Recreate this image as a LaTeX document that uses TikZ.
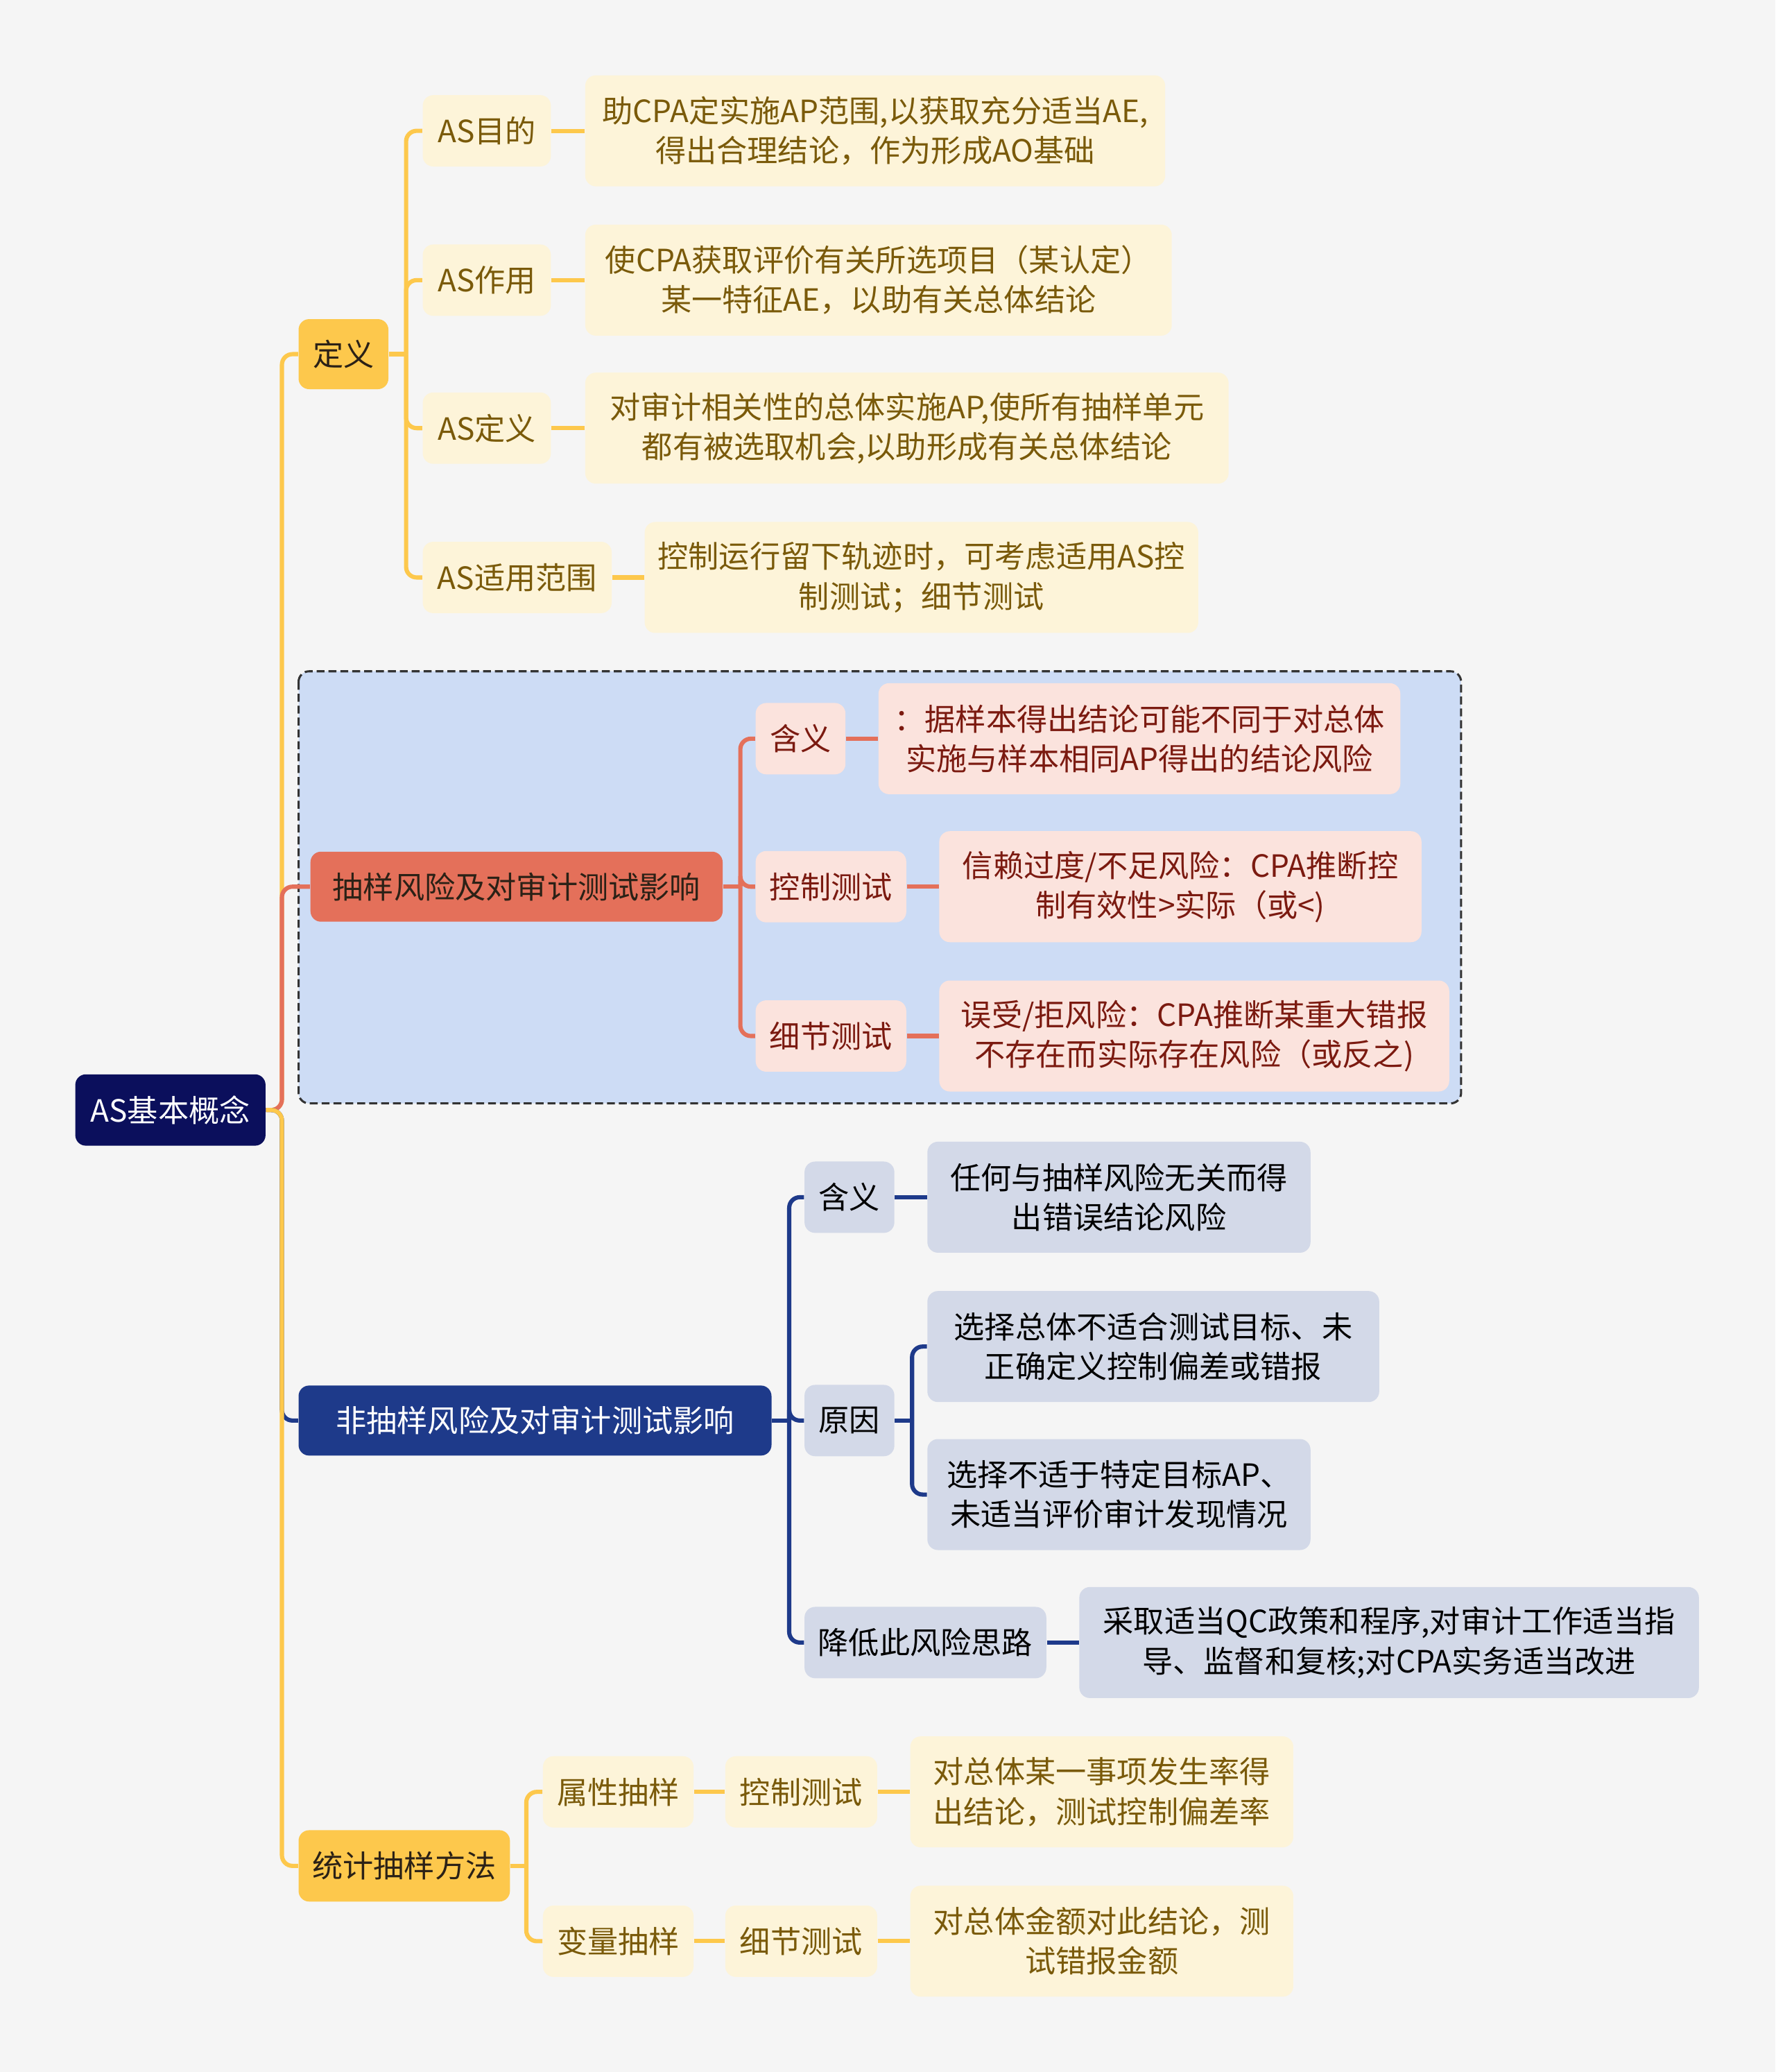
\documentclass[tikz,border=0pt]{standalone}
\usepackage{fontspec}
\setmainfont{Noto Sans CJK SC}
\definecolor{bgc}{HTML}{F5F5F5}
\definecolor{rootc}{HTML}{0B0F5C}
\definecolor{yel}{HTML}{FDC84C}
\definecolor{yelleaf}{HTML}{FDF4D9}
\definecolor{yeltext}{HTML}{7A5A0A}
\definecolor{redc}{HTML}{E4705A}
\definecolor{redleaf}{HTML}{FBE3DD}
\definecolor{redtext}{HTML}{7B1A10}
\definecolor{navy}{HTML}{1E3A8A}
\definecolor{navyleaf}{HTML}{D3D9E8}
\definecolor{boxfill}{HTML}{CDDCF5}
\definecolor{darktext}{HTML}{2B2116}
\begin{document}
\begin{tikzpicture}[x=0.5pt, y=-0.5pt,
    every node/.style={font=\fontsize{11.6}{15}\selectfont, inner sep=0pt,
      align=center, rounded corners=4pt},
    small/.style={minimum height=27pt},
    leaf/.style={minimum height=42pt},
    ylw/.style={fill=yelleaf, text=yeltext},
    rd/.style={fill=redleaf, text=redtext},
    nv/.style={fill=navyleaf, text=black},
    ylink/.style={draw=yel, line width=1.6pt, rounded corners=4pt},
    rlink/.style={draw=redc, line width=1.6pt, rounded corners=4pt},
    nlink/.style={draw=navy, line width=1.6pt, rounded corners=4pt}]
  % Background and dashed frame
  \fill[bgc] (0,0) rectangle (1344,1568);
  \useasboundingbox (0,0) rectangle (1344,1568);
  \draw[fill=boxfill, draw=black!80, line width=0.8pt, dash pattern=on 3pt off 1.5pt,
        rounded corners=4pt] (226,508) rectangle (1106,835);

  % Root and main topics
  \node[fill=rootc, text=white, minimum width=72pt, small] (root) at (129,840) {AS基本概念};
  \node[fill=yel, text=darktext, minimum width=34pt, minimum height=26.5pt] (def) at (260,268) {定义};
  \node[fill=redc, text=darktext, minimum width=156pt, minimum height=26.5pt] (sr) at (391,671) {抽样风险及对审计测试影响};
  \node[fill=navy, text=white, minimum width=179pt, minimum height=26.5pt] (nsr) at (405,1075) {非抽样风险及对审计测试影响};
  \node[fill=yel, text=darktext, minimum width=80pt, small] (stat) at (306,1412) {统计抽样方法};

  % Definition branch
  \node[ylw, small, minimum width=48.5pt] (a1) at (368.5,99) {AS目的};
  \node[ylw, small, minimum width=48.5pt] (a2) at (368.5,212) {AS作用};
  \node[ylw, small, minimum width=48.5pt] (a3) at (368.5,324) {AS定义};
  \node[ylw, small, minimum width=71.5pt] (a4) at (391.5,437) {AS适用范围};
  \node[ylw, leaf, minimum width=219.5pt] (a1t) at (662.5,99)
    {助CPA定实施AP范围,以获取充分适当AE,\\得出合理结论，作为形成AO基础};
  \node[ylw, leaf, minimum width=222pt] (a2t) at (665,212)
    {使CPA获取评价有关所选项目（某认定）\\某一特征AE，以助有关总体结论};
  \node[ylw, leaf, minimum width=243.5pt] (a3t) at (686.5,324)
    {对审计相关性的总体实施AP,使所有抽样单元\\都有被选取机会,以助形成有关总体结论};
  \node[ylw, leaf, minimum width=209.5pt] (a4t) at (697.5,437)
    {控制运行留下轨迹时，可考虑适用AS控\\制测试；细节测试};

  % Sampling risk branch
  \node[rd, small, minimum width=34pt] (b1) at (606,559) {含义};
  \node[rd, small, minimum width=57pt] (b2) at (629,671) {控制测试};
  \node[rd, small, minimum width=57pt] (b3) at (629,784) {细节测试};
  \node[rd, leaf, minimum width=197.5pt] (b1t) at (862.5,559)
    {：据样本得出结论可能不同于对总体\\实施与样本相同AP得出的结论风险};
  \node[rd, leaf, minimum width=182.5pt] (b2t) at (893.5,671)
    {信赖过度/不足风险：CPA推断控\\制有效性>实际（或<)};
  \node[rd, leaf, minimum width=193pt] (b3t) at (904,784)
    {误受/拒风险：CPA推断某重大错报\\不存在而实际存在风险（或反之)};

  % Non-sampling risk branch
  \node[nv, small, minimum width=34pt] (c1) at (643,906) {含义};
  \node[nv, small, minimum width=34pt] (c2) at (643,1075) {原因};
  \node[nv, small, minimum width=91.5pt] (c3) at (700.5,1243) {降低此风险思路};
  \node[nv, leaf, minimum width=145pt] (c1t) at (847,906)
    {任何与抽样风险无关而得\\出错误结论风险};
  \node[nv, leaf, minimum width=171pt] (c2a) at (873,1019)
    {选择总体不适合测试目标、未\\正确定义控制偏差或错报};
  \node[nv, leaf, minimum width=145pt] (c2b) at (847,1131)
    {选择不适于特定目标AP、\\未适当评价审计发现情况};
  \node[nv, leaf, minimum width=234.5pt] (c3t) at (1051.5,1243)
    {采取适当QC政策和程序,对审计工作适当指\\导、监督和复核;对CPA实务适当改进};

  % Statistical sampling branch
  \node[ylw, small, minimum width=57pt] (d1) at (468,1356) {属性抽样};
  \node[ylw, small, minimum width=57pt] (d2) at (468,1469) {变量抽样};
  \node[ylw, small, minimum width=57.5pt] (d1m) at (606.5,1356) {控制测试};
  \node[ylw, small, minimum width=57.5pt] (d2m) at (606.5,1469) {细节测试};
  \node[ylw, leaf, minimum width=145pt] (d1t) at (834,1356)
    {对总体某一事项发生率得\\出结论，测试控制偏差率};
  \node[ylw, leaf, minimum width=145pt] (d2t) at (834,1469)
    {对总体金额对此结论，测\\试错报金额};

  % Connectors from root
  \draw[ylink] (root.east) -- ++(12,0) |- (def.west);
  \draw[rlink] (root.east) -- ++(12,0) |- (sr.west);
  \draw[nlink] (root.east) -- ++(12,0) |- (nsr.west);
  \draw[ylink] (root.east) -- ++(12,0) |- (stat.west);

  % Connectors inside branches
  \draw[ylink] (def.east) -- ++(13,0);
  \foreach \c in {a1,a2,a3,a4}
    \draw[ylink] (def.east) ++(13,0) |- (\c.west);
  \foreach \c in {a1,a2,a3,a4}
    \draw[ylink] (\c.east) -- (\c.east -| \c t.west);

  \draw[rlink] (sr.east) -- ++(13,0);
  \foreach \c in {b1,b2,b3}
    \draw[rlink] (sr.east) ++(13,0) |- (\c.west);
  \foreach \c in {b1,b2,b3}
    \draw[rlink] (\c.east) -- (\c.east -| \c t.west);

  \draw[nlink] (nsr.east) -- ++(13,0);
  \foreach \c in {c1,c2,c3}
    \draw[nlink] (nsr.east) ++(13,0) |- (\c.west);
  \draw[nlink] (c1.east) -- (c1.east -| c1t.west);
  \draw[nlink] (c3.east) -- (c3.east -| c3t.west);
  \draw[nlink] (c2.east) -- ++(13,0);
  \foreach \c in {c2a,c2b}
    \draw[nlink] (c2.east) ++(13,0) |- (\c.west);

  \draw[ylink] (stat.east) -- ++(12,0);
  \foreach \c in {d1,d2}
    \draw[ylink] (stat.east) ++(12,0) |- (\c.west);
  \foreach \c in {d1,d2} {
    \draw[ylink] (\c.east) -- (\c m.west);
    \draw[ylink] (\c m.east) -- (\c m.east -| \c t.west);
  }
\end{tikzpicture}
\end{document}
